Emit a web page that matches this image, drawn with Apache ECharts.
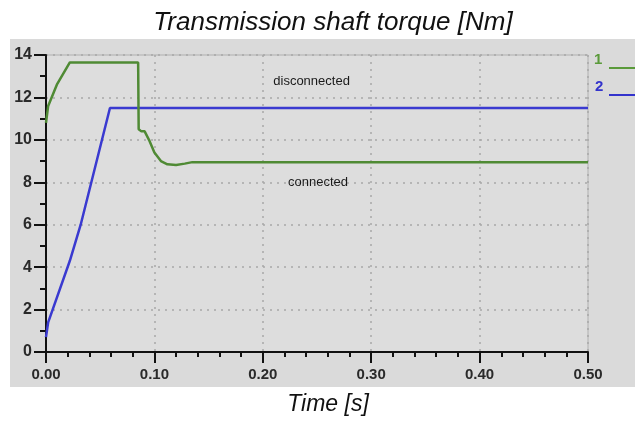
<!DOCTYPE html>
<html>
<head>
<meta charset="utf-8">
<script src="https://cdn.jsdelivr.net/npm/echarts@6/dist/echarts.min.js"></script>
<style>html,body{margin:0;padding:0;background:#fff}#c{width:635px;height:421px}</style>
</head>
<body>
<div id="c"></div>
<script>
// Data
const seriesNames = ['1', '2'];
const green1 = [[0, 10.8], [0.002, 11.6], [0.01, 12.6], [0.022, 13.65], [0.085, 13.65], [0.0855, 10.5], [0.088, 10.4], [0.091, 10.4], [0.095, 10.0], [0.1, 9.4], [0.106, 9.0], [0.112, 8.85], [0.12, 8.82], [0.128, 8.88], [0.135, 8.95], [0.5, 8.95]];
const blue2 = [[0, 0.7], [0.002, 1.4], [0.022, 4.3], [0.032, 6.0], [0.059, 11.5], [0.5, 11.5]];
const annotations = [{ text: 'disconnected', t: 0.245, v: 12.75 }, { text: 'connected', t: 0.251, v: 8.0 }];
const xTicks = [0, 0.1, 0.2, 0.3, 0.4, 0.5];
const yTicks = [0, 2, 4, 6, 8, 10, 12, 14];

const chart = echarts.init(document.getElementById('c'), null, { renderer: 'canvas' });
const font = 'Liberation Sans, Arial, sans-serif';
const gridColor = '#a8a8a8';
const option = {
  animation: false,
  backgroundColor: '#ffffff',
  graphic: [
    { type: 'rect', z: -10, shape: { x: 10, y: 39, width: 625, height: 348 }, style: { fill: '#dadada' } },
    { type: 'text', x: 333, y: 23, style: { text: 'Transmission shaft torque [Nm]', align: 'center', verticalAlign: 'middle', fill: '#111', font: 'italic 26px ' + font } },
    { type: 'text', x: 328, y: 405, style: { text: 'Time [s]', align: 'center', verticalAlign: 'middle', fill: '#111', font: 'italic 23px ' + font } },
    { type: 'text', left: 594, top: 52, style: { text: '1', fill: '#5a9a3a', font: 'bold 15px ' + font } },
    { type: 'line', shape: { x1: 609, y1: 68, x2: 635, y2: 68 }, style: { stroke: '#5a9a3a', lineWidth: 2 } },
    { type: 'text', left: 595, top: 79, style: { text: '2', fill: '#3333cc', font: 'bold 15px ' + font } },
    { type: 'line', shape: { x1: 609, y1: 95, x2: 635, y2: 95 }, style: { stroke: '#3333cc', lineWidth: 2 } }
  ],
  grid: { left: 46, right: 47, top: 55, bottom: 69, show: true, backgroundColor: '#dddddd', borderColor: '#b0b0b0', borderWidth: 1 },
  xAxis: {
    type: 'value', min: xTicks[0], max: xTicks[xTicks.length - 1], interval: 0.1,
    axisLine: { lineStyle: { color: '#111', width: 2 } },
    axisTick: { show: true, length: 11, lineStyle: { color: '#111', width: 2 } },
    minorTick: { show: true, splitNumber: 5, length: 5, lineStyle: { color: '#111', width: 2 } },
    splitLine: { show: true, lineStyle: { color: gridColor, type: [2, 5], width: 1.5 } },
    axisLabel: { formatter: v => v.toFixed(2), fontFamily: font, fontSize: 15, fontWeight: 'bold', color: '#2a2a2a', margin: 15 }
  },
  yAxis: {
    type: 'value', min: yTicks[0], max: yTicks[yTicks.length - 1], interval: 2,
    axisLine: { show: true, lineStyle: { color: '#111', width: 2 } },
    axisTick: { show: true, length: 12, lineStyle: { color: '#111', width: 2 } },
    minorTick: { show: true, splitNumber: 2, length: 6, lineStyle: { color: '#111', width: 2 } },
    splitLine: { show: true, lineStyle: { color: gridColor, type: [2, 5], width: 1.5 } },
    axisLabel: { fontFamily: font, fontSize: 16, fontWeight: 'bold', color: '#2a2a2a', margin: 14 }
  },
  series: [
    {
      name: seriesNames[0], type: 'line', data: green1, showSymbol: false, symbol: 'none',
      lineStyle: { color: '#4f8a34', width: 2.5 }, z: 3,
      markPoint: {
        symbol: 'circle', symbolSize: 0,
        label: { show: true, position: 'inside', formatter: p => p.name, fontFamily: font, fontSize: 13, color: '#1a1a1a' },
        data: annotations.map(a => ({ name: a.text, coord: [a.t, a.v] }))
      }
    },
    {
      name: seriesNames[1], type: 'line', data: blue2, showSymbol: false, symbol: 'none',
      lineStyle: { color: '#3a3ad0', width: 2.5 }, z: 2
    }
  ]
};
chart.setOption(option);
</script>
</body>
</html>
